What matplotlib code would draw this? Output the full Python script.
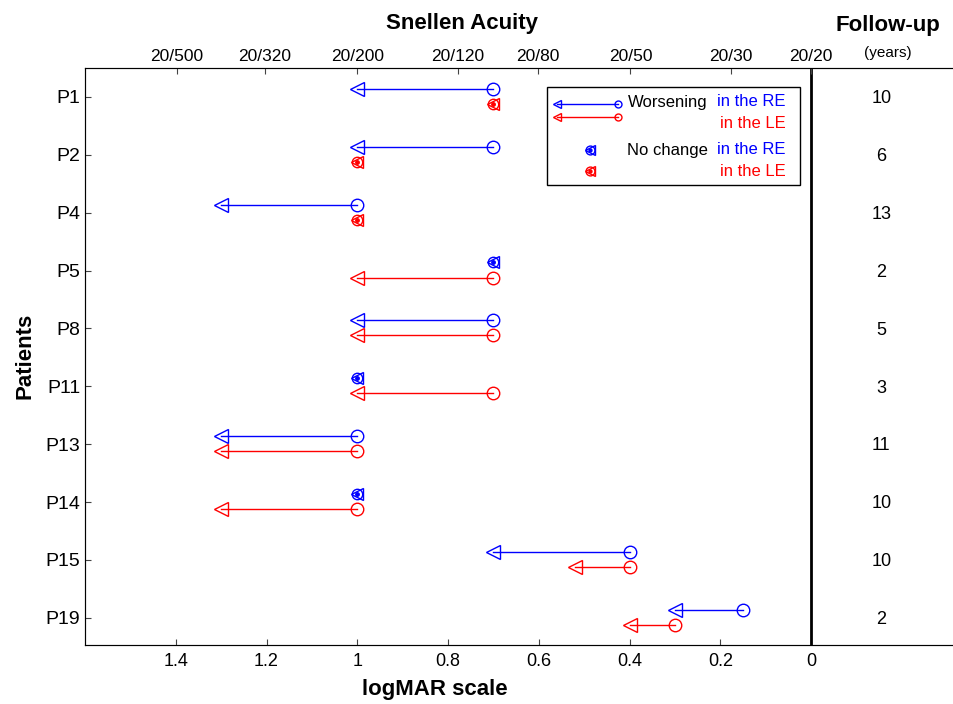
import matplotlib.pyplot as plt
import numpy as np

plt.rcParams['font.family'] = ['Liberation Sans', 'DejaVu Sans']

# Datos de agudeza visual (logMAR), inicio y fin por ojo
pacientes = ["P1", "P2", "P4", "P5", "P8", "P11", "P13", "P14", "P15", "P19"]
od_inicio = [0.7, 0.7, 1.0, 0.7, 0.7, 1.0, 1.0, 1.0, 0.4, 0.15]
od_final = [1.0, 1.0, 1.3, 0.7, 1.0, 1.0, 1.3, 1.0, 0.7, 0.3]
oi_inicio = [0.7, 1.0, 1.0, 0.7, 0.7, 0.7, 1.0, 1.0, 0.4, 0.3]
oi_final = [0.7, 1.0, 1.0, 1.0, 1.0, 1.0, 1.3, 1.3, 0.52, 0.4]
seguimiento = [10, 6, 13, 2, 5, 3, 11, 10, 10, 2]

ticks_logmar = [1.4, 1.2, 1.0, 0.8, 0.6, 0.4, 0.2, 0.0]
snellen_den = [500, 320, 200, 120, 80, 50, 30, 20]

azul = '#0000ff'
rojo = '#ff0000'


def marcador_sin_cambio(ax, x, y, color, tr=None, esc=1.0):
    kw = {} if tr is None else {'transform': tr}
    ax.plot([x], [y], marker='o', ms=7.5 * esc, mfc='none', mec=color, mew=1.0, ls='', **kw)
    ax.plot([x], [y], marker='<', ms=8 * esc, mfc='none', mec=color, mew=1.0, ls='', **kw)
    ax.plot([x], [y], marker='o', ms=2.5 * esc, color=color, ls='', **kw)


def dibuja_ojo(ax, y, ini, fin, color):
    if ini == fin:
        marcador_sin_cambio(ax, ini, y, color)
    else:
        ax.plot([ini, fin], [y, y], color=color, lw=1)
        ax.plot([ini], [y], marker='o', ms=9, mfc='none', mec=color, mew=1, ls='')
        ax.plot([fin], [y], marker='<', ms=10, mfc='none', mec=color, mew=1, ls='')


fig = plt.figure(figsize=(9.54, 7.04), dpi=100)
ax = fig.add_axes([85 / 954, 1 - 645 / 704, 1 - 85 / 954, (645 - 68) / 704])

filas = np.arange(len(pacientes))
for i in filas:
    dibuja_ojo(ax, i - 0.14, od_inicio[i], od_final[i], azul)
    dibuja_ojo(ax, i + 0.12, oi_inicio[i], oi_final[i], rojo)
    ax.text(-0.155, i + 0.03, str(seguimiento[i]), ha='center', va='center', fontsize=13)

ax.axvline(0, color='black', lw=2)

ax.set_xlim(1.6, -0.315)
ax.set_ylim(9.47, -0.5)
ax.set_xticks(ticks_logmar)
ax.set_xticklabels(['%g' % t for t in ticks_logmar], fontsize=13)
ax.set_yticks(filas)
ax.set_yticklabels(pacientes, fontsize=14)
ax.tick_params(direction='in', length=4, color='#444444')
ax.tick_params(axis='x', pad=6)
ax.spines['right'].set_visible(False)
for s in ['left', 'bottom', 'top']:
    ax.spines[s].set_color('#444444')

# Eje superior con escala Snellen
ax2 = ax.twiny()
ax2.set_xlim(ax.get_xlim())
ax2.set_xticks([np.log10(d / 20) for d in snellen_den])
ax2.set_xticklabels(['20/%d' % d for d in snellen_den], fontsize=12.5)
ax2.tick_params(direction='in', length=4, color='#444444', pad=3)
ax2.spines['right'].set_visible(False)

fig.text(462 / 954, 1 - 24 / 704, 'Snellen Acuity', ha='center', va='center', fontsize=16, fontweight='bold')
fig.text(435 / 954, 1 - 690 / 704, 'logMAR scale', ha='center', va='center', fontsize=16, fontweight='bold')
fig.text(25 / 954, 1 - 356 / 704, 'Patients', ha='center', va='center', rotation=90,
         fontsize=16, fontweight='bold')
fig.text(888 / 954, 1 - 25 / 704, 'Follow-up', ha='center', va='center', fontsize=16, fontweight='bold')
fig.text(888 / 954, 1 - 53 / 704, '(years)', ha='center', va='center', fontsize=11)

# Leyenda manual
tr = ax.transAxes


def fx(px):
    return (px - 85) / 869


def fy(py):
    return (645 - py) / 577


ax.add_patch(plt.Rectangle((fx(547), fy(185)), fx(800) - fx(547), fy(87) - fy(185),
                           transform=tr, fill=False, ec='black', lw=1, zorder=5))
for yy, c in [(104, azul), (117, rojo)]:
    ax.plot([fx(557), fx(618)], [fy(yy), fy(yy)], color=c, lw=1, transform=tr)
    ax.plot([fx(618)], [fy(yy)], marker='o', ms=5, mfc='none', mec=c, mew=1, transform=tr)
    ax.plot([fx(557)], [fy(yy)], marker='<', ms=6, mfc='none', mec=c, mew=1, transform=tr)
marcador_sin_cambio(ax, fx(590), fy(150), azul, tr, 0.85)
marcador_sin_cambio(ax, fx(590), fy(171), rojo, tr, 0.85)

ax.text(fx(708), fy(102), 'Worsening', ha='right', va='center', fontsize=12, transform=tr)
ax.text(fx(786), fy(102), 'in the RE', ha='right', va='center', fontsize=12, color=azul, transform=tr)
ax.text(fx(786), fy(124), 'in the LE', ha='right', va='center', fontsize=12, color=rojo, transform=tr)
ax.text(fx(708), fy(150), 'No change', ha='right', va='center', fontsize=12, transform=tr)
ax.text(fx(786), fy(150), 'in the RE', ha='right', va='center', fontsize=12, color=azul, transform=tr)
ax.text(fx(786), fy(171), 'in the LE', ha='right', va='center', fontsize=12, color=rojo, transform=tr)

fig.savefig('out.png', dpi=100)
